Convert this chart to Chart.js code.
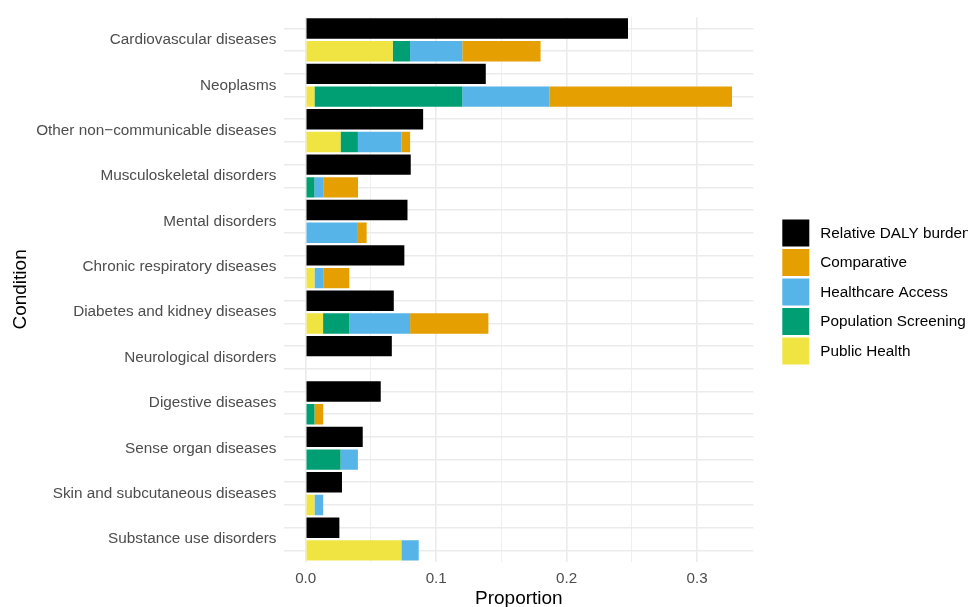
<!DOCTYPE html>
<html>
<head>
<meta charset="utf-8">
<script src="https://cdn.jsdelivr.net/npm/chart.js@4.4.1/dist/chart.umd.min.js"></script>
<style>
  html, body { margin: 0; padding: 0; background: #fff; overflow: hidden; }
  #wrap { position: relative; width: 968px; height: 607px; }
</style>
</head>
<body>
<div id="wrap"><canvas id="myChart"></canvas></div>
<script>
// categories, top to bottom
var categories = ['Cardiovascular diseases', 'Neoplasms', 'Other non\u2212communicable diseases',
    'Musculoskeletal disorders', 'Mental disorders', 'Chronic respiratory diseases',
    'Diabetes and kidney diseases', 'Neurological disorders', 'Digestive diseases',
    'Sense organ diseases', 'Skin and subcutaneous diseases', 'Substance use disorders'];

var dalyBurden       = [0.247, 0.138, 0.090, 0.0805, 0.078, 0.0756, 0.0675, 0.066, 0.0575, 0.0437, 0.0278, 0.0258];
var publicHealth     = [0.0667, 0.0067, 0.0267, 0, 0, 0.0067, 0.0133, 0, 0, 0, 0.0067, 0.0733];
var popScreening     = [0.0133, 0.1133, 0.0133, 0.0067, 0, 0, 0.02, 0, 0.0067, 0.0267, 0, 0];
var healthcareAccess = [0.04, 0.0667, 0.0333, 0.0067, 0.04, 0.0067, 0.0467, 0, 0, 0.0133, 0.0067, 0.0133];
var comparative      = [0.06, 0.14, 0.0067, 0.0267, 0.0067, 0.02, 0.06, 0, 0.0067, 0, 0, 0];

var xTicks = [0, 0.05, 0.1, 0.15, 0.2, 0.25, 0.3];
var legendOrder = ['Relative DALY burden', 'Comparative', 'Healthcare Access', 'Population Screening', 'Public Health'];

var FONT = "'Liberation Sans', Arial, sans-serif";

// two slots per condition: burden bar on top, approach stack below
var slots = [];
categories.forEach(function(c) { slots.push(c); slots.push(c + ' '); });

function topSlot(arr) {
    var out = [];
    arr.forEach(function(v) { out.push(v); out.push(null); });
    return out;
}
function lowSlot(arr) {
    var out = [];
    arr.forEach(function(v) { out.push(null); out.push(v); });
    return out;
}

// ggplot style 5% expansion
var maxVal = 0;
for (var i = 0; i < categories.length; i++) {
    var tot = publicHealth[i] + popScreening[i] + healthcareAccess[i] + comparative[i];
    maxVal = Math.max(maxVal, tot, dalyBurden[i]);
}
var pad = maxVal * 0.05;

function isMajor(v) { return Math.abs(v * 10 - Math.round(v * 10)) < 1e-6; }

var legendPlugin = {
    id: 'sideLegend',
    afterDraw: function(chart) {
        var ctx = chart.ctx;
        var area = chart.chartArea;
        var x0 = area.right + 29;
        var pitch = 29.5;
        var top = 219.5;
        ctx.save();
        ctx.font = '15.3px ' + FONT;
        ctx.textBaseline = 'middle';
        ctx.fillStyle = '#000';
        legendOrder.forEach(function(name, k) {
            var ds = chart.data.datasets.find(function(d) { return d.label == name; });
            ctx.fillStyle = ds.backgroundColor;
            ctx.fillRect(x0, top + k * pitch, 27, 27);
            ctx.fillStyle = '#000';
            ctx.fillText(name, x0 + 38, top + k * pitch + 14);
        });
        ctx.restore();
    }
};

var canvas = document.getElementById('myChart').getContext('2d');
var chart = new Chart(canvas, {
    type: 'bar',
    data: {
        labels: slots,
        datasets: [
            { label: 'Relative DALY burden', data: topSlot(dalyBurden), backgroundColor: '#000000' },
            { label: 'Public Health', data: lowSlot(publicHealth), backgroundColor: '#F0E442' },
            { label: 'Population Screening', data: lowSlot(popScreening), backgroundColor: '#009E73' },
            { label: 'Healthcare Access', data: lowSlot(healthcareAccess), backgroundColor: '#56B4E9' },
            { label: 'Comparative', data: lowSlot(comparative), backgroundColor: '#E69F00' }
        ]
    },
    plugins: [legendPlugin],
    options: {
        indexAxis: 'y',
        responsive: true,
        maintainAspectRatio: false,
        animation: false,
        devicePixelRatio: 1,
        categoryPercentage: 0.9,
        barPercentage: 1.0,
        borderWidth: 0,
        layout: { padding: { left: 0, right: 214.7, top: 14.6, bottom: 0 } },
        plugins: {
            legend: { display: false },
            tooltip: { enabled: false }
        },
        scales: {
            x: {
                stacked: true,
                min: -pad,
                max: maxVal + pad,
                afterBuildTicks: function(scale) {
                    scale.ticks = xTicks.map(function(v) { return { value: v }; });
                },
                afterFit: function(scale) { scale.height = 45.3; },
                border: { display: false },
                grid: {
                    drawTicks: false,
                    color: '#ebebeb',
                    lineWidth: function(c) { return isMajor(c.tick.value) ? 1.6 : 0.8; }
                },
                ticks: {
                    padding: 8,
                    color: '#4d4d4d',
                    font: { family: FONT, size: 15.2 },
                    maxRotation: 0,
                    autoSkip: false,
                    callback: function(v) { return isMajor(v) ? v.toFixed(1) : ''; }
                },
                title: {
                    display: true,
                    text: 'Proportion',
                    color: '#000',
                    font: { family: FONT, size: 19 },
                    padding: { top: 0, bottom: -3 }
                }
            },
            y: {
                stacked: true,
                afterFit: function(scale) { scale.width = 284.4; },
                border: { display: false },
                grid: {
                    offset: false,
                    drawTicks: false,
                    color: '#ebebeb',
                    lineWidth: 1.6
                },
                ticks: {
                    padding: 8,
                    color: '#4d4d4d',
                    font: { family: FONT, size: 15.3 },
                    autoSkip: false,
                    labelOffset: 11.4,
                    callback: function(v, idx) { return idx % 2 == 0 ? categories[idx / 2] : ''; }
                },
                title: {
                    display: true,
                    text: 'Condition',
                    color: '#000',
                    font: { family: FONT, size: 19 },
                    padding: { top: 9, bottom: 0 }
                }
            }
        }
    }
});
</script>
</body>
</html>
